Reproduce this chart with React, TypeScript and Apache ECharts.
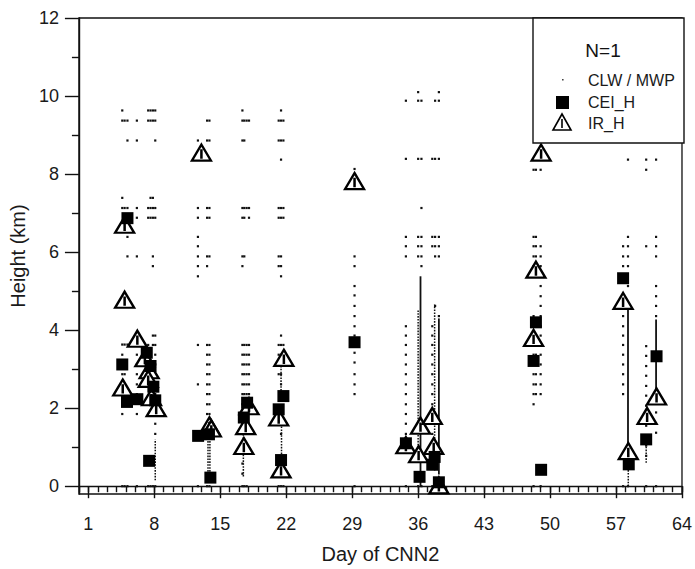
import { useEffect, useRef } from "react";
import * as echarts from "echarts";

const FONT = "'Liberation Sans', Arial, Helvetica, sans-serif";

const xTickLabels = [1, 8, 15, 22, 29, 36, 43, 50, 57, 64];
const yTickLabels = [0, 2, 4, 6, 8, 10, 12];
const yMinorTicks = [1, 3, 5, 7, 9, 11];

// CLW / MWP retrieval heights, grouped per day cluster: [day, heights (km)]
const clwDays4to9: [number, number[]][] = [
  [4.6, [9.63, 9.37, 7.39, 7.13, 3.63, 3.37, 2.87, 1.85, 0]],
  [4.85, [9.37, 7.13, 3.63, 2.87, 0]],
  [5.15, [9.37, 8.86, 7.13, 6.39, 5.89, 3.63, 0]],
  [6.15, [9.37, 8.86, 7.13, 6.88, 5.89, 3.63, 3.37, 3.12, 2.87, 2.61, 2.36, 1.85, 0]],
  [7.35, [9.63, 9.37, 7.13, 6.88, 3.62, 0]],
  [7.6, [9.63, 9.37, 7.39, 7.13, 6.88, 0]],
  [7.85, [9.63, 9.37, 7.39, 7.13, 6.88, 5.89, 5.64, 3.86, 3.62, 0]],
  [8.1, [9.63, 9.37, 8.86, 7.13, 6.88, 3.86, 3.62, 3.37, 3.12, 2.87, 2.61, 2.36, 2.1, 1.85, 1.6, 1.34, 0]],
];
const clwDays12to15: [number, number[]][] = [
  [12.63, [8.86, 7.13, 6.88, 6.39, 6.15, 5.89, 5.64, 5.38, 3.62, 2.61, 0]],
  [13.6, [9.37, 8.86, 7.13, 6.88, 5.89, 5.64, 3.62, 3.37, 3.12, 2.87, 2.61, 2.36, 2.1, 1.85, 0]],
  [13.85, [9.37, 8.86, 7.13, 6.88, 5.89, 3.62, 3.37, 3.12, 2.87, 2.61, 2.36, 2.1, 1.85, 1.6, 0]],
];
const clwDays17to18: [number, number[]][] = [
  [17.35, [9.63, 9.37, 8.86, 7.13, 6.88, 5.89, 5.64, 3.62, 3.37, 3.12, 2.87, 2.61, 2.36, 2.1, 1.85, 1.6, 1.34, 1.09, 0.83, 0.58, 0.32, 0]],
  [17.55, [9.37, 8.86, 7.13, 6.88, 5.89, 3.62, 3.37, 3.12, 2.87, 2.61, 2.36, 2.1, 1.85, 0]],
  [17.8, [9.37, 7.13, 3.62, 3.37, 3.12, 2.87, 2.61, 2.36, 0]],
  [18.05, [9.37, 7.13, 6.88, 3.62, 3.37, 3.12, 2.87, 2.61, 2.36, 2.1]],
];
const clwDays21to22: [number, number[]][] = [
  [21.2, [9.37, 8.86, 7.13, 6.88, 5.89, 5.64, 3.62, 3.37, 3.12, 2.87, 0]],
  [21.45, [9.63, 9.37, 8.86, 8.37, 7.13, 6.88, 5.89, 5.64, 5.38, 3.86, 3.62, 3.37, 3.12, 2.87, 2.61, 2.36, 1.6, 1.34, 0]],
  [21.7, [9.37, 8.86, 7.13, 6.88, 3.62, 3.37, 3.12, 0]],
];
const clwDay29: [number, number[]][] = [
  [29.25, [8.13, 5.89, 5.64, 5.13, 4.89, 4.62, 4.36, 4.1, 3.86, 3.42, 3.17, 2.87, 2.61, 2.36, 0]],
];
const clwDays35to38: [number, number[]][] = [
  [34.7, [9.88, 8.39, 6.39, 6.15, 5.89, 4.1, 3.86, 3.62, 3.37, 3.12, 2.87, 2.61, 2.36, 2.1, 1.85, 1.6, 1.34, 0]],
  [36.0, [10.1, 9.88, 8.39, 6.39, 6.15, 5.89, 0]],
  [36.35, [9.88, 8.39, 7.13, 6.39, 6.15, 5.89, 5.64, 0]],
  [37.5, [8.39, 6.39, 6.15, 4.1, 3.86, 3.62, 3.37, 3.12, 2.87, 2.61, 2.36, 2.1, 1.85, 1.6, 1.34, 1.09, 0]],
  [37.8, [9.88, 8.39, 6.39, 6.15, 5.89, 4.62, 0]],
  [38.2, [10.1, 9.88, 8.39, 6.39, 6.15, 5.89, 4.36, 0]],
];
const clwDays48to49: [number, number[]][] = [
  [48.25, [8.11, 6.39, 6.15, 5.89, 5.64, 4.36, 4.1, 3.62, 3.37, 3.12, 2.87, 2.61, 2.36, 2.1, 0]],
  [48.5, [8.11, 6.39, 6.15, 5.89, 3.62, 3.37, 3.12, 2.87, 2.61, 2.36]],
  [49.0, [8.37, 8.11, 6.15, 5.89, 5.64, 5.13, 4.87, 4.62, 4.36, 4.1, 3.86, 3.62, 3.37, 3.12, 2.87, 2.61, 2.36, 0]],
];
const clwDays57to61: [number, number[]][] = [
  [57.75, [6.15, 5.89, 5.64, 4.36, 4.1, 3.86, 3.62, 3.37, 3.12, 2.87, 2.61, 2.36, 0]],
  [58.27, [8.37, 6.39, 6.15, 5.89, 5.64, 5.13, 0]],
  [60.2, [8.37, 8.11, 6.15, 3.59, 3.34, 3.08, 2.83, 2.57, 2.32, 2.06, 1.8, 1.55, 1.29, 1.04, 0.78, 0]],
  [61.25, [8.37, 6.39, 6.15, 5.89, 5.13, 4.87, 4.62, 4.36, 1.89, 1.37, 0]],
];

// Dense CLW / MWP profiles: [day, bottom km, top km]
const clwDenseDotted: [number, number, number][] = [
  [8.1, 0.15, 1.2],
  [13.7, 0.15, 1.5],
  [13.9, 0.15, 1.5],
  [17.45, 0.25, 1.5],
  [21.5, 0.3, 1.7],
  [21.45, 2.3, 3.1],
  [36.0, 0.9, 4.5],
  [37.75, 0.4, 4.66],
  [58.3, 0, 0.85],
  [60.2, 0.6, 1.1],
];
const clwDenseSolid: [number, number, number][] = [
  [36.25, 0, 5.38],
  [38.2, 0.3, 4.3],
  [58.27, 0.85, 4.62],
  [61.25, 2.4, 4.27],
];

// CEI_H heights: [day, km]
const ceiH: [number, number][] = [
  [4.6, 3.12], [5.1, 2.16], [5.15, 6.87], [6.2, 2.23], [7.2, 3.42], [7.6, 3.08],
  [7.9, 2.55], [8.1, 2.2], [7.45, 0.65], [12.65, 1.29], [13.8, 1.33], [13.95, 0.22],
  [17.5, 1.76], [17.85, 2.14], [21.2, 1.97], [21.7, 2.31], [21.45, 0.67], [29.25, 3.69],
  [34.7, 1.1], [36.15, 0.24], [37.5, 0.55], [37.75, 0.75], [38.2, 0.1],
  [48.25, 3.21], [48.5, 4.2], [49.05, 0.42], [57.75, 5.33], [58.35, 0.56],
  [60.2, 1.2], [61.3, 3.33],
];

// IR_H heights: [day, km]
const irH: [number, number][] = [
  [4.85, 6.7], [4.85, 4.78], [4.65, 2.53], [6.2, 3.78], [7.0, 3.28], [7.45, 2.97],
  [7.35, 2.75], [7.7, 2.28], [8.2, 2.0], [13.0, 8.55], [13.85, 1.56], [14.05, 1.48],
  [17.5, 1.03], [17.7, 1.54], [18.05, 2.05], [21.2, 1.76], [21.45, 0.43], [21.75, 3.29],
  [29.25, 7.82], [34.7, 1.05], [36.05, 0.82], [36.25, 1.55], [37.5, 1.8], [37.65, 1.03],
  [38.2, 0.02], [48.25, 3.8], [48.5, 5.55], [49.05, 8.55], [57.75, 4.75], [58.3, 0.9],
  [60.3, 1.8], [61.3, 2.3],
];

const clwColumns = [
  ...clwDays4to9, ...clwDays12to15, ...clwDays17to18, ...clwDays21to22,
  ...clwDay29, ...clwDays35to38, ...clwDays48to49, ...clwDays57to61,
];
const clwPoints = clwColumns.flatMap(([d, hs]) => hs.map((h) => [d, h]));

const TRIANGLE = "path://M10,0 L20,17 L0,17 Z M10,5 L10,15";
const INK = "#000";

function segmentSeries(data: [number, number, number][], dashed: boolean) {
  return {
    type: "custom",
    xAxisIndex: 0,
    yAxisIndex: 0,
    data,
    encode: { x: 0, y: [1, 2] },
    silent: true,
    z: 3,
    renderItem: (_p: any, api: any) => {
      const a = api.coord([api.value(0), api.value(1)]);
      const b = api.coord([api.value(0), api.value(2)]);
      return {
        type: "line",
        shape: { x1: a[0], y1: a[1], x2: b[0], y2: b[1] },
        style: {
          stroke: "#111",
          lineWidth: dashed ? 1.5 : 1.8,
          lineDash: dashed ? [1.6, 1.3] : null,
        },
      };
    },
  };
}

export default function App() {
  const ref = useRef<HTMLDivElement>(null);
  useEffect(() => {
    if (!ref.current) return;
    const chart = echarts.init(ref.current, null, { renderer: "svg" });
    const lineStyle = { color: "#111", width: 1.4 };
    const labelStyle = { fontSize: 18, fontFamily: FONT, color: "#1a1a1a" };
    const nameStyle = { fontSize: 20, fontFamily: FONT, color: "#1a1a1a" };
    chart.setOption({
      animation: false,
      backgroundColor: "#fff",
      grid: {
        left: 73,
        right: 12,
        top: 18,
        bottom: 74,
        show: true,
        borderColor: "#111",
        borderWidth: 1.3,
        backgroundColor: "transparent",
      },
      xAxis: [
        {
          type: "value",
          min: 0,
          max: 64,
          position: "bottom",
          axisLine: { show: true, lineStyle },
          axisTick: { show: true, customValues: xTickLabels, length: 12, lineStyle },
          axisLabel: { customValues: xTickLabels, margin: 21, ...labelStyle },
          splitLine: { show: false },
          name: "Day of CNN2",
          nameLocation: "middle",
          nameGap: 50,
          nameTextStyle: { ...nameStyle },
        },
        {
          type: "value",
          min: 0,
          max: 64,
          interval: 1,
          position: "bottom",
          axisLine: { show: false },
          axisTick: { show: true, length: 6, lineStyle },
          axisLabel: { show: false },
          splitLine: { show: false },
        },
      ],
      yAxis: [
        {
          type: "value",
          min: -0.2,
          max: 12,
          position: "left",
          axisLine: { show: true, lineStyle },
          axisTick: { show: true, customValues: yTickLabels, length: 14, lineStyle },
          axisLabel: { customValues: yTickLabels, margin: 20, ...labelStyle },
          splitLine: { show: false },
          name: "Height (km)",
          nameLocation: "middle",
          nameGap: 47,
          nameRotate: 90,
          nameTextStyle: { ...nameStyle },
        },
        {
          type: "value",
          min: -0.2,
          max: 12,
          position: "left",
          axisLine: { show: false },
          axisTick: { show: true, customValues: yMinorTicks, length: 7, lineStyle },
          axisLabel: { show: false },
          splitLine: { show: false },
        },
      ],
      series: [
        {
          name: "CLW / MWP",
          type: "scatter",
          xAxisIndex: 0,
          yAxisIndex: 0,
          data: clwPoints,
          symbol: "rect",
          symbolSize: 2.2,
          itemStyle: { color: "#111", opacity: 1 },
          silent: true,
          z: 2,
        },
        segmentSeries(clwDenseDotted, true),
        segmentSeries(clwDenseSolid, false),
        {
          name: "IR_H",
          type: "scatter",
          xAxisIndex: 0,
          yAxisIndex: 0,
          data: irH,
          symbol: TRIANGLE,
          symbolSize: [19, 16],
          itemStyle: { color: "#fff", borderColor: INK, borderWidth: 2.3, opacity: 1 },
          silent: true,
          z: 4,
        },
        {
          name: "CEI_H",
          type: "scatter",
          xAxisIndex: 0,
          yAxisIndex: 0,
          data: ceiH,
          symbol: "rect",
          symbolSize: 12,
          itemStyle: { color: INK, opacity: 1 },
          silent: true,
          z: 5,
        },
      ],
      graphic: [
        {
          type: "rect",
          z: 100,
          shape: { x: 533, y: 18, width: 151, height: 125 },
          style: { fill: "#fff", stroke: "#111", lineWidth: 1.4 },
        },
        {
          type: "text",
          z: 101,
          x: 603,
          y: 50,
          style: { text: "N=1", fontSize: 19, fontFamily: FONT, fill: "#111", align: "center", verticalAlign: "middle" },
        },
        {
          type: "rect",
          z: 101,
          shape: { x: 562, y: 79, width: 1.6, height: 1.6 },
          style: { fill: "#444" },
        },
        {
          type: "text",
          z: 101,
          x: 588,
          y: 80,
          style: { text: "CLW / MWP", fontSize: 16, fontFamily: FONT, fill: "#1a1a1a", verticalAlign: "middle" },
        },
        {
          type: "rect",
          z: 101,
          shape: { x: 556, y: 96, width: 13, height: 13 },
          style: { fill: INK },
        },
        {
          type: "text",
          z: 101,
          x: 588,
          y: 102,
          style: { text: "CEI_H", fontSize: 16, fontFamily: FONT, fill: "#1a1a1a", verticalAlign: "middle" },
        },
        {
          type: "polygon",
          z: 101,
          shape: { points: [[562, 114], [571, 130], [553, 130]] },
          style: { fill: "#fff", stroke: INK, lineWidth: 1.6 },
        },
        {
          type: "line",
          z: 101,
          shape: { x1: 562, y1: 119, x2: 562, y2: 128 },
          style: { stroke: INK, lineWidth: 1.6 },
        },
        {
          type: "text",
          z: 101,
          x: 588,
          y: 123,
          style: { text: "IR_H", fontSize: 16, fontFamily: FONT, fill: "#1a1a1a", verticalAlign: "middle" },
        },
      ],
    });
    return () => chart.dispose();
  }, []);
  return (
    <div
      ref={ref}
      style={{ position: "fixed", left: 0, top: 0, width: 695, height: 569, background: "#fff" }}
    />
  );
}
